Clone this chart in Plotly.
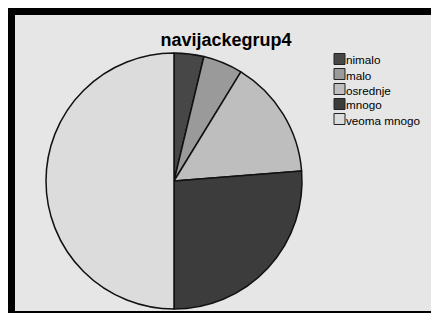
import plotly.graph_objects as go

W, H = 439, 313

title_text = "navijackegrup4"
labels = ["nimalo", "malo", "osrednje", "mnogo", "veoma mnogo"]
values = [3, 4, 12, 21, 40]
colors = ["#474747", "#9a9a9a", "#bebebe", "#3c3c3c", "#dcdcdc"]

def px(x):
    return x / W

def py(y):
    return 1 - y / H

# figure-pixel geometry (page body adds an 8px offset on screen)
cx, cy, r = 166, 173, 128

fig = go.Figure()
fig.add_trace(go.Pie(
    labels=labels,
    values=values,
    sort=False,
    direction="clockwise",
    rotation=0,
    textinfo="none",
    hoverinfo="label+value+percent",
    marker=dict(colors=colors, line=dict(color="#111111", width=1.5)),
    domain=dict(x=[px(cx - r), px(cx + r)], y=[py(cy + r), py(cy - r)]),
    showlegend=False,
))

shapes = [
    # grey inner panel inside the black frame
    dict(type="rect", xref="paper", yref="paper", x0=px(7), x1=px(424), y0=py(303), y1=py(7),
         fillcolor="#e6e6e6", line=dict(width=0), layer="below"),
]
annotations = []
for i, (lab, col) in enumerate(zip(labels, colors)):
    yc = 51 + 15 * i
    shapes.append(dict(type="rect", xref="paper", yref="paper",
                       x0=px(326), x1=px(337), y0=py(yc + 5.5), y1=py(yc - 5.5),
                       fillcolor=col, line=dict(color="#222222", width=1)))
    annotations.append(dict(xref="paper", yref="paper", x=px(336.5), y=py(yc + 1),
                            text=lab, showarrow=False, xanchor="left", yanchor="middle",
                            borderpad=0,
                            font=dict(family="Liberation Sans, Arial, sans-serif", size=11.7, color="#000000")))

fig.update_layout(
    width=W, height=H,
    margin=dict(l=0, r=0, t=0, b=0),
    paper_bgcolor="#000000",
    plot_bgcolor="#000000",
    title=dict(text="<b>" + title_text + "</b>", x=px(218), y=py(32), xanchor="center", yanchor="middle",
               font=dict(family="Liberation Sans, Arial, sans-serif", size=18, color="#000000")),
    shapes=shapes,
    annotations=annotations,
    showlegend=False,
)

fig.write_html("out.html")
